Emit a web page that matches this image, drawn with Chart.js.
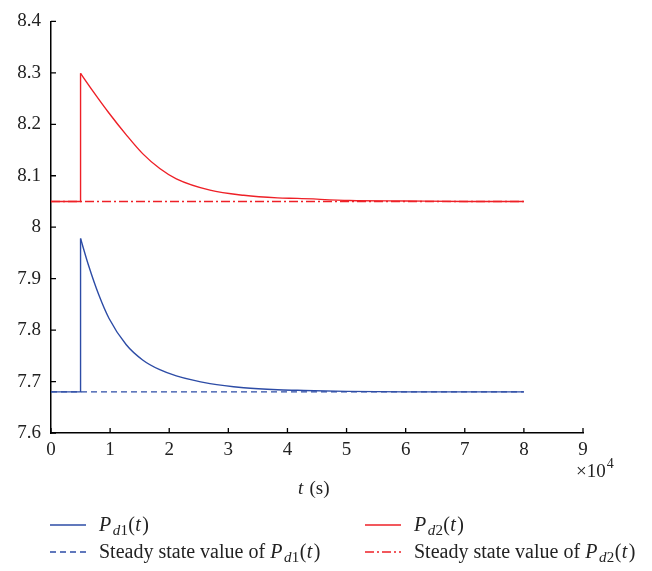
<!DOCTYPE html>
<html>
<head>
<meta charset="utf-8">
<script src="https://cdn.jsdelivr.net/npm/chart.js@4.4.1/dist/chart.umd.min.js"></script>
<style>
  body { margin: 0; background: #fff; }
  canvas { display: block; }
</style>
</head>
<body>
<canvas id="chart" width="652" height="571"></canvas>
<script>
// time in seconds, power values
const tPd1 = [0, 5000, 5000, 6400, 8100, 9800, 12700, 15500, 18400, 21200, 26900, 32600, 38300, 41700, 50000, 60000, 70000, 80000];
const pd1 = [7.68, 7.68, 7.978, 7.924, 7.868, 7.823, 7.772, 7.742, 7.723, 7.711, 7.696, 7.688, 7.684, 7.683, 7.681, 7.680, 7.680, 7.680];

const tPd2 = [0, 5000, 5000, 7000, 9800, 12700, 15500, 18400, 21200, 26900, 32600, 38300, 41700, 50500, 60000, 70000, 80000];
const pd2 = [8.05, 8.05, 8.299, 8.266, 8.222, 8.180, 8.143, 8.114, 8.094, 8.072, 8.062, 8.057, 8.056, 8.052, 8.051, 8.050, 8.050];

const tSteady = [0, 80000];
const steady1 = [7.68, 7.68];
const steady2 = [8.05, 8.05];

const xTicks = [0, 1, 2, 3, 4, 5, 6, 7, 8, 9];
const yTicks = [7.6, 7.7, 7.8, 7.9, 8, 8.1, 8.2, 8.3, 8.4];

// legend labels: [text, style] pieces
const legendPd1 = [["P", "i"], ["d", "si"], ["1", "s"], ["(", "n"], ["t", "i"], [")", "n"]];
const legendPd2 = [["P", "i"], ["d", "si"], ["2", "s"], ["(", "n"], ["t", "i"], [")", "n"]];
const legendSt1 = [["Steady state value of ", "n"]].concat(legendPd1);
const legendSt2 = [["Steady state value of ", "n"]].concat(legendPd2);

const BLUE = "#2d4ca6";
const RED = "#ee2027";
const SERIF = "'Liberation Serif', 'DejaVu Serif', serif";

function pts(xs, ys, from, to) {
  const out = [];
  for (let i = from; i < to; i++) out.push({ x: xs[i], y: ys[i] });
  return out;
}

function lineSet(data, color, dash, smooth) {
  return {
    data: data,
    borderColor: color,
    borderWidth: 1.4,
    borderDash: dash,
    pointRadius: 0,
    cubicInterpolationMode: smooth ? "monotone" : "default",
    tension: smooth ? 0.4 : 0,
    fill: false
  };
}

const datasets = [
  lineSet(pts(tSteady, steady1, 0, 2), BLUE, [6, 4], false),
  lineSet(pts(tSteady, steady2, 0, 2), RED, [9, 3, 2, 3], false),
  // flat part and jump
  lineSet(pts(tPd1, pd1, 0, 3), BLUE, [], false),
  lineSet(pts(tPd2, pd2, 0, 3), RED, [], false),
  // decay
  lineSet(pts(tPd1, pd1, 2, tPd1.length), BLUE, [], true),
  lineSet(pts(tPd2, pd2, 2, tPd2.length), RED, [], true)
];

function drawRich(ctx, parts, x, y, size) {
  ctx.textBaseline = "alphabetic";
  ctx.textAlign = "left";
  for (const [txt, st] of parts) {
    const sub = st.indexOf("s") >= 0;
    const ital = st.indexOf("i") >= 0;
    const fs = sub ? size * 0.75 : size;
    ctx.font = (ital ? "italic " : "") + fs + "px " + SERIF;
    ctx.fillText(txt, x, sub ? y + size * 0.22 : y);
    x += ctx.measureText(txt).width + (ital && !sub ? 1.5 : 0.3);
  }
}

const extras = {
  id: "extras",
  afterDraw(chart) {
    const ctx = chart.ctx;
    const xs = chart.scales.x;
    const ys = chart.scales.y;
    const area = chart.chartArea;
    ctx.save();
    // inward ticks
    ctx.strokeStyle = "#000";
    ctx.lineWidth = 1.3;
    ctx.beginPath();
    for (const v of xTicks) {
      const px = xs.getPixelForValue(v * 10000);
      ctx.moveTo(px, area.bottom);
      ctx.lineTo(px, area.bottom - 5);
    }
    for (const v of yTicks) {
      const py = ys.getPixelForValue(v);
      ctx.moveTo(area.left, py);
      ctx.lineTo(area.left + 5, py);
    }
    ctx.stroke();

    ctx.fillStyle = "#222";
    // x10^4 multiplier
    ctx.font = "19px " + SERIF;
    ctx.textAlign = "left";
    ctx.textBaseline = "alphabetic";
    ctx.fillText("\u00d710", 576, 477);
    const w = ctx.measureText("\u00d710").width;
    ctx.font = "14px " + SERIF;
    ctx.fillText("4", 576 + w + 1, 468);

    // axis title
    drawRich(ctx, [["t", "i"], [" (s)", "n"]], 298, 494, 19);

    // legend
    const rows = [531, 558];
    const items = [
      [legendPd1, BLUE, [], 50, rows[0]],
      [legendSt1, BLUE, [6, 4], 50, rows[1]],
      [legendPd2, RED, [], 365, rows[0]],
      [legendSt2, RED, [9, 3, 2, 3], 365, rows[1]]
    ];
    for (const [parts, color, dash, x0, y0] of items) {
      ctx.strokeStyle = color;
      ctx.lineWidth = 1.4;
      ctx.setLineDash(dash);
      ctx.beginPath();
      ctx.moveTo(x0, y0 - 6);
      ctx.lineTo(x0 + 36, y0 - 6);
      ctx.stroke();
      ctx.setLineDash([]);
      ctx.fillStyle = "#222";
      drawRich(ctx, parts, x0 + 49, y0, 20);
    }
    ctx.restore();
  }
};

new Chart(document.getElementById("chart"), {
  type: "line",
  data: { datasets: datasets },
  plugins: [extras],
  options: {
    responsive: false,
    animation: false,
    layout: { padding: { top: 17, right: 69, left: 0, bottom: 0 } },
    plugins: { legend: { display: false }, tooltip: { enabled: false } },
    scales: {
      x: {
        type: "linear",
        min: 0,
        max: 90000,
        afterFit(scale) { scale.height = 138; },
        afterBuildTicks(scale) { scale.ticks = xTicks.map(v => ({ value: v * 10000 })); },
        ticks: {
          callback: v => String(v / 10000),
          font: { family: SERIF, size: 19 },
          color: "#222",
          padding: 6,
          maxRotation: 0
        },
        grid: { display: false, drawTicks: false },
        border: { display: true, color: "#000", width: 1.5 }
      },
      y: {
        min: 7.6,
        max: 8.4,
        afterFit(scale) { scale.width = 51; },
        afterBuildTicks(scale) { scale.ticks = yTicks.map(v => ({ value: v })); },
        ticks: {
          callback: v => String(Math.round(v * 10) / 10),
          font: { family: SERIF, size: 19 },
          color: "#222",
          padding: 10
        },
        grid: { display: false, drawTicks: false },
        border: { display: true, color: "#000", width: 1.5 }
      }
    }
  }
});
</script>
</body>
</html>
